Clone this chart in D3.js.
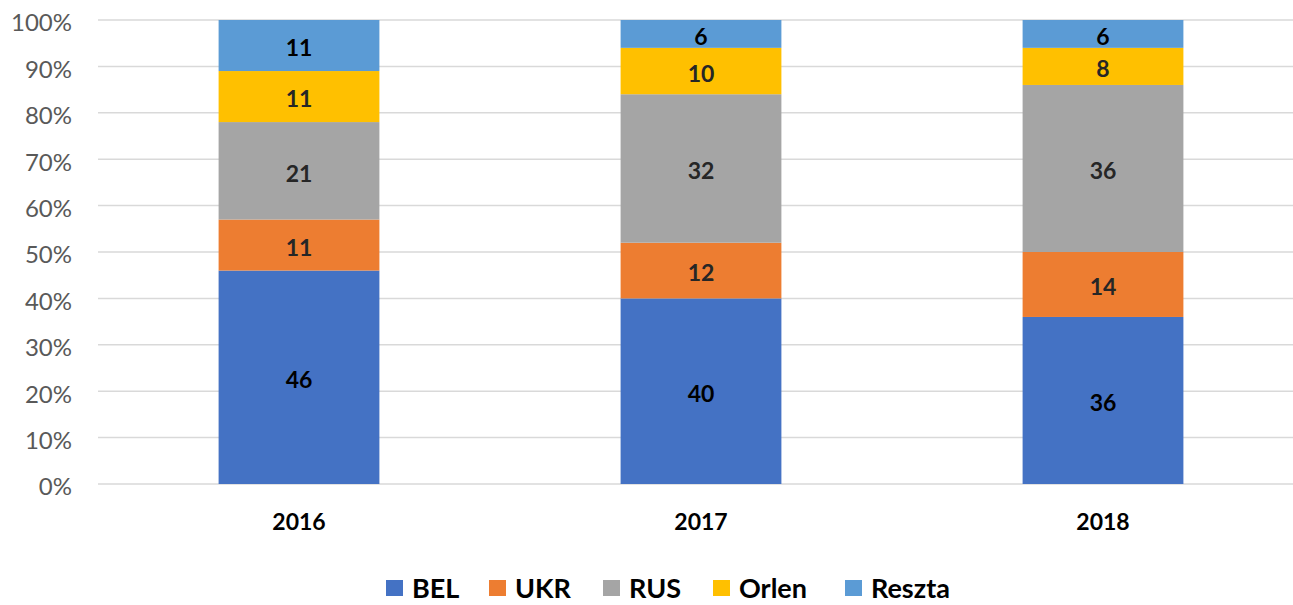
<!DOCTYPE html>
<html>
<head>
<meta charset="utf-8">
<script src="https://cdn.jsdelivr.net/npm/d3@7"></script>
<style>
  body { margin: 0; background: #fff; }
  svg text { font-family: Lato, "Open Sans", sans-serif; }
</style>
</head>
<body>
<script>
// lata i udziały (%)
var years = ["2016", "2017", "2018"];
var series = ["BEL", "UKR", "RUS", "Orlen", "Reszta"];
var bel = [46, 40, 36];
var ukr = [11, 12, 14];
var rus = [21, 32, 36];
var orlen = [11, 10, 8];
var reszta = [11, 6, 6];
var yTicks = [0, 10, 20, 30, 40, 50, 60, 70, 80, 90, 100];

var colors = ["#4472C4", "#ED7D31", "#A5A5A5", "#FFC000", "#5B9BD5"];
var labelColors = ["#000", "#262626", "#262626", "#262626", "#000"];

var values = [bel, ukr, rus, orlen, reszta];
var rows = years.map(function(y, i) {
  var r = { year: y };
  series.forEach(function(s, j) { r[s] = values[j][i]; });
  return r;
});

var W = 1293, H = 605;
var svg = d3.select("body").append("svg")
  .attr("width", W)
  .attr("height", H);

var x = d3.scaleBand()
  .domain(years)
  .range([98, 1304])
  .paddingInner(0.6)
  .paddingOuter(0.3);

var y = d3.scaleLinear()
  .domain([0, 100])
  .range([484, 20]);

// siatka
svg.append("g").selectAll("line")
  .data(yTicks)
  .enter().append("line")
  .attr("x1", 98).attr("x2", W)
  .attr("y1", function(d) { return y(d); })
  .attr("y2", function(d) { return y(d); })
  .attr("stroke", "#d9d9d9")
  .attr("stroke-width", 1.5);

// oś Y
var yAxis = svg.append("g")
  .attr("transform", "translate(80,0)")
  .call(d3.axisLeft(y).tickValues(yTicks).tickSize(0).tickFormat(function(d) { return d + "%"; }));
yAxis.select(".domain").remove();
yAxis.selectAll("text")
  .attr("x", -8)
  .attr("dy", "0.45em")
  .style("font-size", "24px")
  .attr("fill", "#595959");

// oś X
var xAxis = svg.append("g")
  .attr("transform", "translate(0,484)")
  .call(d3.axisBottom(x).tickSize(0));
xAxis.select(".domain").remove();
xAxis.selectAll("text")
  .attr("dy", "0")
  .attr("y", 46)
  .style("font-size", "23px")
  .style("font-weight", "bold")
  .attr("fill", "#000");

var stack = d3.stack().keys(series);
var layers = stack(rows);

var g = svg.selectAll(".layer")
  .data(layers)
  .enter().append("g")
  .attr("class", "layer")
  .attr("fill", function(d, i) { return colors[i]; });

g.selectAll("rect")
  .data(function(d) { return d; })
  .enter().append("rect")
  .attr("x", function(d) { return x(d.data.year); })
  .attr("width", x.bandwidth())
  .attr("y", function(d) { return y(d[1]); })
  .attr("height", function(d) { return y(d[0]) - y(d[1]); });

// etykiety danych
svg.selectAll(".lbl")
  .data(layers)
  .enter().append("g")
  .attr("class", "lbl")
  .each(function(layer, i) {
    d3.select(this).selectAll("text")
      .data(layer)
      .enter().append("text")
      .attr("x", function(d) { return x(d.data.year) + x.bandwidth() / 2; })
      .attr("y", function(d) { return (y(d[0]) + y(d[1])) / 2; })
      .attr("dy", "0.47em")
      .attr("text-anchor", "middle")
      .style("font-size", "23px")
      .style("font-weight", "bold")
      .attr("fill", labelColors[i])
      .text(function(d) { return d[1] - d[0]; });
  });

// legenda
var legendX = [386, 489, 603, 713, 845];
var leg = svg.selectAll(".leg")
  .data(series)
  .enter().append("g")
  .attr("class", "leg")
  .attr("transform", function(d, i) { return "translate(" + legendX[i] + ",580)"; });
leg.append("rect")
  .attr("width", 17).attr("height", 16)
  .attr("fill", function(d, i) { return colors[i]; });
leg.append("text")
  .attr("x", 26)
  .attr("y", 18)
  .style("font-size", "27px")
  .style("font-weight", "bold")
  .attr("fill", "#000")
  .text(function(d) { return d; });
</script>
</body>
</html>
